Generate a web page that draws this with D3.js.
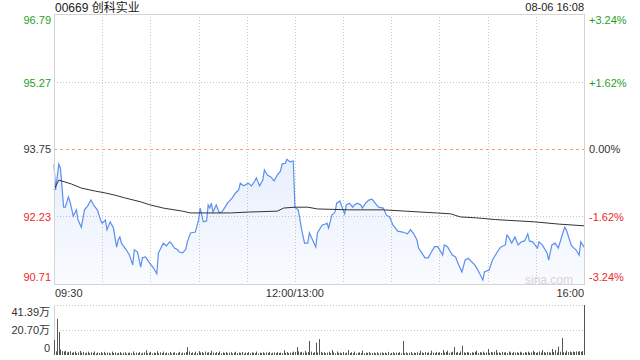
<!DOCTYPE html>
<html><head><meta charset="utf-8">
<script src="https://cdn.jsdelivr.net/npm/d3@7"></script>
<style>
html,body{margin:0;padding:0;background:#fff;}
svg{display:block;font-family:Arial,"Liberation Sans","Noto Sans CJK SC",sans-serif;}
</style></head>
<body><svg id="chart" width="640" height="360"></svg>
<script>
const title = "00669 创科实业";
const stamp = "08-06 16:08";
const prevClose = 93.75;
const priceTicks = [96.79, 95.27, 93.75, 92.23, 90.71];
const pctTicks = ["+3.24%", "+1.62%", "0.00%", "-1.62%", "-3.24%"];
const timeLabels = ["09:30", "12:00/13:00", "16:00"];
const timeLabelMin = [0, 150, 330];
const volTicks = [41.39, 20.70, 0];
const volTickLabels = ["41.39万", "20.70万", "0"];
// trading minutes since 09:30 (12:00 and 13:00 share minute 150)
const priceMin = [0,1,3,4,6,7,9,10,12,14,15,17,19,21,23,25,27,29,30,32,33,35,37,39,40,41,42,45,47,49,50,52,54,55,57,59,62,64,65,66,68,70,72,73,75,77,78,80,82,83,85,88,90,91,93,95,96,97,98,99,101,103,105,108,111,113,115,116,118,121,123,125,126,128,130,131,133,135,137,139,141,142,144,145,147,149,150,152,153,154,156,158,159,161,163,164,167,169,170,171,173,175,176,178,180,181,182,184,186,187,189,191,192,194,196,198,200,202,205,207,209,211,214,217,220,222,224,226,227,229,231,233,235,237,239,242,243,245,248,250,252,254,256,258,260,262,264,267,268,271,273,276,278,281,282,283,285,287,289,291,293,295,296,298,301,302,304,307,308,310,312,314,317,318,319,322,323,325,327,328,330];
const price = [93.41,92.83,93.41,93.32,92.44,92.44,92.67,92.56,92.24,92.38,92.15,91.99,92.38,92.47,92.60,92.47,92.38,92.15,92.08,92.15,91.93,92.11,91.97,91.54,91.70,91.77,91.63,91.48,91.36,91.14,91.48,91.43,91.09,91.30,91.32,91.21,91.07,90.94,91.41,91.48,91.63,91.57,91.66,91.63,91.52,91.48,91.43,91.41,91.48,91.66,91.86,91.88,92.15,92.42,92.11,92.13,92.49,92.42,92.53,92.33,92.49,92.31,92.35,92.53,92.65,92.76,92.83,92.98,92.92,92.98,92.92,93.03,93.10,92.92,93.05,93.28,93.16,93.12,93.03,93.16,93.25,93.41,93.43,93.52,93.46,93.48,92.44,92.38,92.20,91.97,91.63,91.63,91.86,91.70,91.54,91.86,92.04,92.06,92.08,91.97,92.26,92.33,92.53,92.58,92.38,92.29,92.49,92.53,92.44,92.49,92.53,92.49,92.42,92.53,92.60,92.62,92.53,92.44,92.42,92.26,92.22,92.04,91.90,91.88,91.84,91.93,91.84,91.70,91.52,91.41,91.30,91.30,91.43,91.55,91.55,91.36,91.59,91.55,91.36,91.32,91.14,90.98,91.25,91.29,91.21,91.14,91.02,90.80,90.98,91.03,91.25,91.43,91.54,91.59,91.81,91.77,91.63,91.77,91.59,91.66,91.68,91.84,91.68,91.66,91.52,91.66,91.59,91.41,91.25,91.59,91.63,91.52,91.88,91.99,91.93,91.59,91.54,91.48,91.36,91.66,91.54];
const avgMin = [0,3,11,17,26,32,38,44,54,60,68,80,85,110,121,139,143,150,158,164,184,205,219,238,247,253,263,275,299,314,330];
const avgPrice = [92.83,93.05,92.96,92.87,92.80,92.76,92.71,92.65,92.56,92.49,92.42,92.35,92.31,92.31,92.33,92.35,92.42,92.44,92.44,92.40,92.38,92.38,92.35,92.31,92.29,92.22,92.20,92.16,92.11,92.06,92.02];
// volume per minute, in 万 shares
const volume = [
12.4,3.0,30.0,19.0,4.5,3.2,2.8,3.5,2.1,2.6,
3.1,1.8,2.4,2.9,1.6,2.2,3.3,1.9,2.5,1.4,
2.0,2.7,1.5,2.3,1.8,2.9,1.2,2.1,1.7,2.4,
1.5,2.6,1.3,2.0,1.9,1.1,2.8,1.6,2.2,1.4,
1.8,2.5,1.2,1.9,2.3,1.0,1.7,2.1,1.5,2.9,
1.3,2.0,1.6,2.4,1.1,1.8,2.2,4.0,1.5,1.9,
2.6,1.2,2.0,1.7,3.1,1.4,2.3,1.6,2.8,1.3,
2.1,1.5,2.5,1.2,1.9,2.2,1.4,1.8,2.6,1.1,
2.0,1.7,2.4,6.4,2.9,1.6,2.2,1.3,2.7,1.5,
3.2,2.0,2.5,1.4,2.8,1.9,2.3,1.6,3.6,2.1,
1.5,2.4,1.8,2.9,1.3,2.2,1.7,2.6,1.4,2.0,
2.3,1.2,1.9,2.7,1.5,2.1,1.8,2.5,1.1,2.0,
1.6,2.4,1.3,2.2,1.9,1.5,2.8,1.2,2.0,1.7,
2.3,1.4,2.1,1.8,2.6,1.3,1.9,2.2,1.5,2.4,
1.7,2.0,1.4,4.0,1.8,2.5,1.6,2.1,1.9,2.8,
2.4,6.5,3.0,2.2,2.6,1.9,3.3,2.0,2.5,11.6,
2.8,1.7,2.3,10.2,2.1,13.2,2.6,1.8,2.4,1.5,
2.0,2.7,1.6,4.1,2.2,1.4,2.9,1.8,2.1,1.5,
2.5,1.3,2.0,4.1,1.7,2.3,1.5,2.8,1.2,1.9,
2.2,1.6,3.6,1.4,2.0,1.8,2.5,1.3,1.7,2.1,
1.5,2.4,1.2,1.9,2.2,1.6,2.0,1.4,2.6,1.1,
1.8,2.3,1.5,2.0,1.7,2.4,1.3,11.6,1.6,2.2,
1.4,1.9,2.5,1.2,2.0,1.7,2.3,1.5,3.6,2.1,
1.6,2.4,1.8,2.2,1.3,3.6,2.0,1.5,2.6,1.9,
2.3,1.7,4.1,2.0,2.5,3.6,1.8,2.2,2.7,6.6,
2.0,2.4,1.6,2.9,7.7,2.2,1.8,2.5,2.1,1.5,
2.3,1.9,2.6,3.6,1.7,2.4,2.0,2.8,1.6,2.2,
5.0,1.8,2.5,2.1,2.7,4.1,1.9,2.3,1.6,2.6,
2.0,2.4,1.7,2.9,2.2,1.5,2.6,2.0,2.3,1.8,
2.7,2.1,1.6,2.4,2.0,2.8,1.9,2.2,3.6,2.5,
1.7,2.3,2.9,2.0,4.1,2.4,1.8,2.6,2.2,2.0,
5.0,2.5,4.1,2.1,6.9,2.7,14.1,2.3,2.0,3.6,
2.4,2.8,2.2,2.9,2.5,3.0,2.7,3.1,2.6,3.3,
41.39];

const svg = d3.select("#chart");
const L = 54, R = 584, T = 14, B = 284;
const VT = 305, VB = 355;
const green = "#1f9f1f", red = "#f02828", dark = "#333";

const x = d3.scaleLinear().domain([0, 330]).range([L, R]);
const y = d3.scaleLinear().domain([priceTicks[4], priceTicks[0]]).range([B, T]);
const yv = d3.scaleLinear().domain([0, volTicks[0]]).range([VB, VT]);

const defs = svg.append("defs");
const grad = defs.append("linearGradient").attr("id", "fillg")
  .attr("gradientUnits", "userSpaceOnUse").attr("x1", 0).attr("x2", 0).attr("y1", T).attr("y2", B);
grad.append("stop").attr("offset", 0).attr("stop-color", "#3d7be8").attr("stop-opacity", 0.22);
grad.append("stop").attr("offset", 1).attr("stop-color", "#3d7be8").attr("stop-opacity", 0.03);

// vertical grid
const vgrid = d3.range(30, 330, 30);
svg.append("g").selectAll("line").data(vgrid).join("line")
  .attr("x1", d => Math.round(x(d)) + 0.5).attr("x2", d => Math.round(x(d)) + 0.5)
  .attr("y1", T).attr("y2", B)
  .attr("stroke", "#c8c8c8").attr("stroke-dasharray", "1,2");

// horizontal grid
svg.append("g").selectAll("line").data(priceTicks.slice(1, 4)).join("line")
  .attr("x1", L).attr("x2", R)
  .attr("y1", d => Math.round(y(d)) + 0.5).attr("y2", d => Math.round(y(d)) + 0.5)
  .attr("stroke", d => d === prevClose ? "#f4a46a" : "#c8c8c8")
  .attr("stroke-dasharray", d => d === prevClose ? "3,3" : "1,2");

// area + price line
const pts = priceMin.map((m, i) => [m, price[i]]);
svg.append("path").datum(pts)
  .attr("d", d3.area().x(d => x(d[0])).y0(B).y1(d => y(d[1])))
  .attr("fill", "url(#fillg)");
svg.append("path").datum(pts)
  .attr("d", d3.line().x(d => x(d[0])).y(d => y(d[1])))
  .attr("fill", "none").attr("stroke", "#5b8ff0").attr("stroke-width", 1.2);

// average line
const apts = avgMin.map((m, i) => [m, avgPrice[i]]);
svg.append("path").datum(apts)
  .attr("d", d3.line().x(d => x(d[0])).y(d => y(d[1])))
  .attr("fill", "none").attr("stroke", "#333").attr("stroke-width", 1);

// frame
svg.append("rect").attr("x", L + 0.5).attr("y", T + 0.5).attr("width", R - L).attr("height", B - T)
  .attr("fill", "none").attr("stroke", "#d4d4d4");

// left axis labels
const tickColor = (i) => i < 2 ? green : (i === 2 ? dark : red);
const offs = [6, 1, 0, 0, -7];
const gl = svg.append("g").attr("transform", `translate(${L - 3},0)`)
  .call(d3.axisLeft(y).tickValues(priceTicks).tickSize(0).tickPadding(0).tickFormat(d3.format(".2f")));
gl.select(".domain").remove();
gl.selectAll(".tick text").attr("font-size", 11).attr("font-family", "Arial,'Liberation Sans',sans-serif")
  .attr("fill", (d, i) => tickColor(i)).attr("dy", (d, i) => (offs[i] + 3.5) + "px");

// right axis labels
const gr = svg.append("g").attr("transform", `translate(${R + 5},0)`)
  .call(d3.axisRight(y).tickValues(priceTicks).tickSize(0).tickPadding(0).tickFormat((d, i) => pctTicks[i]));
gr.select(".domain").remove();
gr.selectAll(".tick text").attr("font-size", 11).attr("font-family", "Arial,'Liberation Sans',sans-serif")
  .attr("fill", (d, i) => tickColor(i)).attr("dy", (d, i) => (offs[i] + 3.5) + "px");

// title and timestamp
svg.append("text").attr("x", L + 1).attr("y", 12).attr("font-size", 12).attr("fill", "#222").text(title);
svg.append("text").attr("x", R).attr("y", 11).attr("text-anchor", "end").attr("font-size", 11).attr("fill", "#222").text(stamp);

// time labels
svg.append("g").selectAll("text").data(timeLabels).join("text")
  .attr("x", (d, i) => x(timeLabelMin[i]) + (i === 0 ? 1 : 0))
  .attr("y", 297).attr("font-size", 11).attr("fill", dark)
  .attr("text-anchor", (d, i) => i === 0 ? "start" : (i === 1 ? "middle" : "end"))
  .text(d => d);

// watermark
svg.append("text").attr("x", 573).attr("y", 284).attr("text-anchor", "end")
  .attr("font-size", 12).attr("fill", "#d6d6d6").text("sina.com");

// volume panel grid
svg.append("g").selectAll("line").data(volTicks.slice(0, 2)).join("line")
  .attr("x1", L).attr("x2", R)
  .attr("y1", d => Math.round(yv(d)) + 0.5).attr("y2", d => Math.round(yv(d)) + 0.5)
  .attr("stroke", "#c8c8c8").attr("stroke-dasharray", "1,2");
svg.append("line").attr("x1", L + 0.5).attr("x2", L + 0.5).attr("y1", VT).attr("y2", VB)
  .attr("stroke", "#d4d4d4");

// volume bars
svg.append("g").selectAll("rect").data(volume).join("rect")
  .attr("x", (d, i) => Math.round(x(i)))
  .attr("width", 1)
  .attr("y", d => yv(d))
  .attr("height", d => VB - yv(d))
  .attr("fill", "#555");

// volume labels
const voffs = [7, 0, -7];
svg.append("g").selectAll("text").data(volTicks).join("text")
  .attr("x", L - 4).attr("y", (d, i) => yv(d) + voffs[i] + 4)
  .attr("text-anchor", "end").attr("font-size", 11).attr("fill", dark)
  .text((d, i) => volTickLabels[i]);
</script></body></html>
